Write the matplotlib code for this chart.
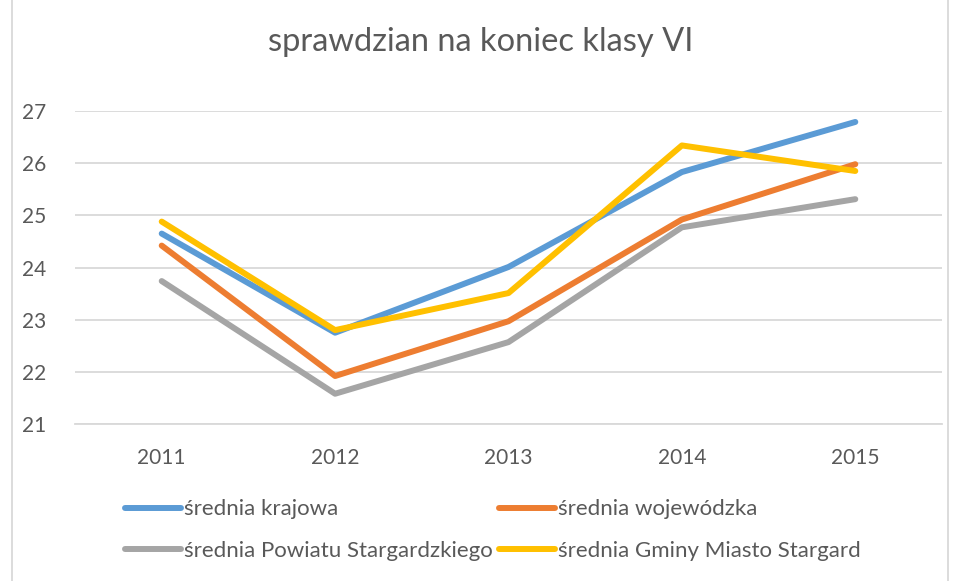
import matplotlib.pyplot as plt
from matplotlib.patches import Rectangle

plt.rcParams['font.family'] = ['Lato', 'DejaVu Sans']

# data
years = ['2011', '2012', '2013', '2014', '2015']
krajowa = [24.65, 22.75, 24.01, 25.83, 26.79]
wojewodzka = [24.42, 21.92, 22.97, 24.92, 25.98]
powiat = [23.74, 21.58, 22.57, 24.77, 25.31]
gmina = [24.88, 22.80, 23.51, 26.34, 25.85]

series = [
    ('średnia krajowa', krajowa, '#5B9BD5'),
    ('średnia wojewódzka', wojewodzka, '#ED7D31'),
    ('średnia Powiatu Stargardzkiego', powiat, '#A5A5A5'),
    ('średnia Gminy Miasto Stargard', gmina, '#FFC000'),
]

text_col = '#595959'

fig = plt.figure(figsize=(9.62, 5.81), dpi=100)
ax = fig.add_axes([75 / 962, 1 - 424 / 581, (942 - 75) / 962, (424 - 111) / 581])

x = range(len(years))
lines = []
for name, vals, col in series:
    ln, = ax.plot(x, vals, color=col, lw=4.3, label=name, solid_capstyle='round', solid_joinstyle='round')
    lines.append(ln)

ax.set_xlim(-0.5, len(years) - 0.5)
ax.set_ylim(21, 27)
ax.set_yticks(range(21, 28))
ax.set_xticks(list(x))
ax.set_xticklabels(years)
ax.grid(axis='y', color='#D9D9D9', lw=1.3)
ax.set_axisbelow(True)
for s in ['top', 'right', 'left']:
    ax.spines[s].set_visible(False)
ax.spines['bottom'].set_color('#D9D9D9')
ax.spines['bottom'].set_linewidth(1.3)
ax.tick_params(length=0, labelsize=15, colors=text_col)
ax.tick_params(axis='y', pad=21)
ax.tick_params(axis='x', pad=17)

fig.text(0.5, 1 - 42 / 581, 'sprawdzian na koniec klasy VI', ha='center', va='center',
         fontsize=23.5, color=text_col)

# matplotlib fills legend columns first, so reorder to get rows like the original
order = [0, 2, 1, 3]
fig.legend([lines[i] for i in order], [series[i][0] for i in order], ncol=2, loc='center',
           bbox_to_anchor=(493 / 962, 1 - 530 / 581), frameon=False, fontsize=16,
           labelcolor=text_col, handlelength=2.5, handletextpad=0.15, columnspacing=0.3,
           labelspacing=0.95)

# outer chart frame
fig.patches.append(Rectangle((12 / 962, -0.01), 936 / 962, 1.02, transform=fig.transFigure,
                             fill=False, edgecolor='#D9D9D9', lw=1.3))

fig.savefig('out.png', dpi=100)
